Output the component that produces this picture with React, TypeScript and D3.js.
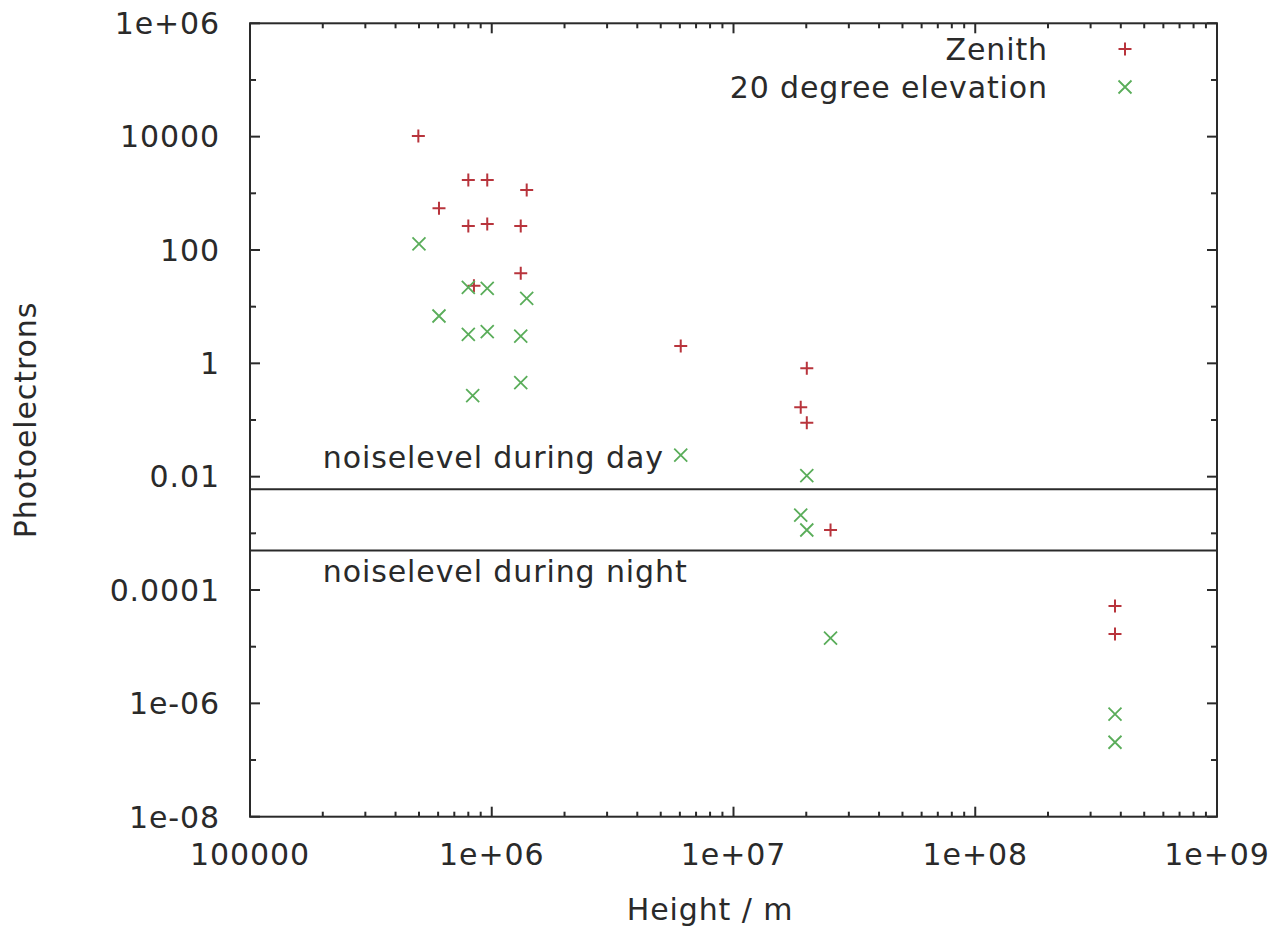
import React from "react";
import * as d3 from "d3";

const zenithX = [4.97e5, 6.05e5, 8.0e5, 9.58e5, 1.395e6, 8.0e5, 9.58e5, 1.318e6, 1.318e6, 8.44e5, 6.05e6, 2.01e7, 1.897e7, 2.01e7, 2.52e7, 3.785e8, 3.785e8];
const zenithY = [1.03e4, 543, 1718, 1718, 1143, 265, 287, 265, 38.8, 23.4, 2.02, 0.817, 0.1675, 0.0895, 0.001145, 5.22e-5, 1.67e-5];

const elevX = [5.0e5, 8.0e5, 9.58e5, 1.395e6, 6.05e5, 8.0e5, 9.58e5, 1.318e6, 1.318e6, 8.34e5, 6.05e6, 2.01e7, 1.897e7, 2.01e7, 2.52e7, 3.785e8, 3.785e8];
const elevY = [127.6, 21.9, 21.1, 14.0, 6.84, 3.25, 3.61, 3.03, 0.455, 0.268, 0.0241, 0.0104, 0.0021, 0.001145, 1.41e-5, 6.48e-7, 2.06e-7];

const xTickValues = [1e5, 1e6, 1e7, 1e8, 1e9];
const xTickLabels = ["100000", "1e+06", "1e+07", "1e+08", "1e+09"];
const yTickValues = [1e6, 1e4, 1e2, 1, 1e-2, 1e-4, 1e-6, 1e-8];
const yTickLabels = ["1e+06", "10000", "100", "1", "0.01", "0.0001", "1e-06", "1e-08"];
const yMinorValues = [1e5, 1e3, 1e1, 1e-1, 1e-3, 1e-5, 1e-7];

const noiseDay = 0.006;
const noiseNight = 0.0005;
const labelX = 2e5;

const seriesNames = ["Zenith", "20 degree elevation"];

const W = 1274;
const H = 929;
const L = 250, R = 1217, T = 23.3, B = 816.7;

const RED = "#b8343c";
const GREEN = "#5aad5a";
const INK = "#2a2a2a";
const FONT = "DejaVu Sans";

export default function App() {
  const x = d3.scaleLog().domain([1e5, 1e9]).range([L, R]);
  const y = d3.scaleLog().domain([1e-8, 1e6]).range([B, T]);

  const xMinor: number[] = [];
  for (let e = 5; e < 9; e++) {
    for (let m = 2; m <= 9; m++) xMinor.push(m * Math.pow(10, e));
  }

  const textStyle = { fontFamily: FONT, fontSize: 30, fill: INK, letterSpacing: 0.9 } as const;
  const ms = 6.5;

  const plus = (cx: number, cy: number, key: string) => (
    <path key={key} d={`M${cx - ms},${cy}H${cx + ms}M${cx},${cy - ms}V${cy + ms}`} stroke={RED} strokeWidth={2} fill="none" />
  );
  const cross = (cx: number, cy: number, key: string) => (
    <path key={key} d={`M${cx - ms},${cy - ms}L${cx + ms},${cy + ms}M${cx - ms},${cy + ms}L${cx + ms},${cy - ms}`} stroke={GREEN} strokeWidth={1.8} fill="none" />
  );

  return (
    <svg width={W} height={H} style={{ position: "absolute", left: 0, top: 0, background: "#fff", display: "block" }}>
      <rect x={0} y={0} width={W} height={H} fill="#fff" />

      {/* noise lines */}
      <line x1={L} x2={R} y1={y(noiseDay)} y2={y(noiseDay)} stroke={INK} strokeWidth={2} />
      <line x1={L} x2={R} y1={y(noiseNight)} y2={y(noiseNight)} stroke={INK} strokeWidth={2} />
      <text x={x(labelX)} y={468} {...textStyle}>noiselevel during day</text>
      <text x={x(labelX)} y={582} {...textStyle}>noiselevel during night</text>

      {/* x ticks */}
      {xTickValues.map((v, i) => (
        <g key={"xt" + i}>
          <line x1={x(v)} x2={x(v)} y1={B} y2={B - 10} stroke={INK} strokeWidth={2} />
          <line x1={x(v)} x2={x(v)} y1={T} y2={T + 10} stroke={INK} strokeWidth={2} />
          <text x={x(v)} y={865} textAnchor="middle" {...textStyle}>{xTickLabels[i]}</text>
        </g>
      ))}
      {xMinor.map((v, i) => (
        <g key={"xm" + i}>
          <line x1={x(v)} x2={x(v)} y1={B} y2={B - 5} stroke={INK} strokeWidth={2} />
          <line x1={x(v)} x2={x(v)} y1={T} y2={T + 5} stroke={INK} strokeWidth={2} />
        </g>
      ))}

      {/* y ticks */}
      {yTickValues.map((v, i) => (
        <g key={"yt" + i}>
          <line x1={L} x2={L + 10} y1={y(v)} y2={y(v)} stroke={INK} strokeWidth={2} />
          <line x1={R} x2={R - 10} y1={y(v)} y2={y(v)} stroke={INK} strokeWidth={2} />
          <text x={220} y={y(v)} dy="0.36em" textAnchor="end" {...textStyle}>{yTickLabels[i]}</text>
        </g>
      ))}
      {yMinorValues.map((v, i) => (
        <g key={"ym" + i}>
          <line x1={L} x2={L + 6} y1={y(v)} y2={y(v)} stroke={INK} strokeWidth={2} />
          <line x1={R} x2={R - 6} y1={y(v)} y2={y(v)} stroke={INK} strokeWidth={2} />
        </g>
      ))}

      {/* frame */}
      <rect x={L} y={T} width={R - L} height={B - T} fill="none" stroke={INK} strokeWidth={2} />

      {/* data */}
      {zenithX.map((v, i) => plus(x(v), y(zenithY[i]), "z" + i))}
      {elevX.map((v, i) => cross(x(v), y(elevY[i]), "e" + i))}

      {/* legend */}
      <text x={1048} y={49} dy="0.36em" textAnchor="end" {...textStyle}>{seriesNames[0]}</text>
      {plus(1125, 49, "lz")}
      <text x={1048} y={87} dy="0.36em" textAnchor="end" {...textStyle}>{seriesNames[1]}</text>
      {cross(1125, 87, "le")}

      {/* axis titles */}
      <text x={710} y={920} textAnchor="middle" {...textStyle}>Height / m</text>
      <text transform={`translate(36,${(T + B) / 2}) rotate(-90)`} textAnchor="middle" {...textStyle}>Photoelectrons</text>
    </svg>
  );
}
